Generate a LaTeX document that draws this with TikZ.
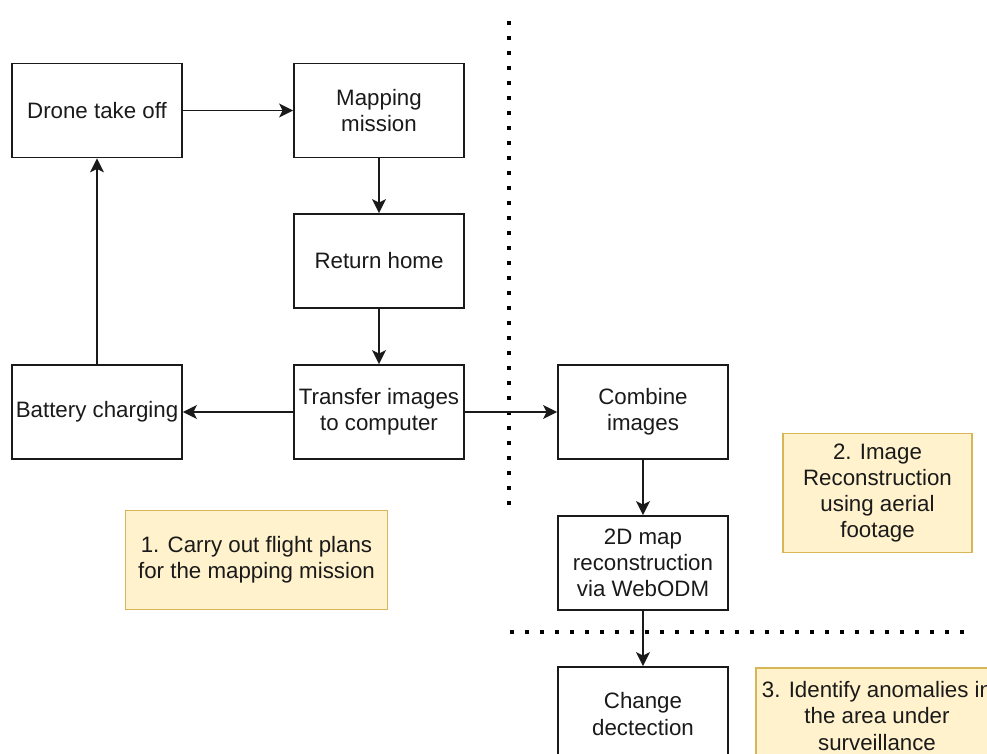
\documentclass[tikz,border=0pt]{standalone}
\usepackage{fontspec}
\setmainfont{Liberation Sans}
\usetikzlibrary{arrows.meta}
\definecolor{notefill}{HTML}{FFF2CC}
\definecolor{noteedge}{HTML}{D6B656}
\definecolor{inkc}{HTML}{1A1A1A}
\begin{document}
\begin{tikzpicture}[x=1pt,y=-1pt,
  stepbox/.style={draw=inkc,line width=1.8pt,fill=white,minimum width=170pt,minimum height=94pt,
    align=center,text=inkc,inner sep=2pt,font=\fontsize{22.3}{26.3}\selectfont},
  notebox/.style={draw=noteedge,line width=1.5pt,fill=notefill,align=center,text=inkc,
    inner sep=2pt,font=\fontsize{22.3}{26.3}\selectfont},
  flow/.style={draw=inkc,line width=1.8pt,-{Stealth[length=14pt,width=14pt,inset=3.5pt]}},
  sep/.style={line width=3.2pt,dash pattern=on 3.2pt off 11.8pt,draw=black}]
\useasboundingbox (0,0) rectangle (987,754);
\begin{scope}
\clip (0,0) rectangle (987,754);
% phase separators
\draw[sep] (509,21.4) -- (509,507);
\draw[sep] (510.4,632) -- (966,632);
% process steps
\node[stepbox] (takeoff) at (97,110.5) {Drone take off};
\node[stepbox] (mapping) at (379,110.5) {Mapping\\mission};
\node[stepbox] (home) at (379,261) {Return home};
\node[stepbox] (transfer) at (379,412) {Transfer images\\to computer};
\node[stepbox] (battery) at (97,412) {Battery charging};
\node[stepbox] (combine) at (643,412) {Combine\\images};
\node[stepbox] (map2d) at (643,563) {2D map\\reconstruction\\via WebODM};
\node[stepbox] (change) at (643,714) {Change\\dectection};
% phase notes
\node[notebox,minimum width=262pt,minimum height=99pt] (note1) at (256.5,560) {1. Carry out flight plans\\for the mapping mission};
\node[notebox,minimum width=189pt,minimum height=119pt] (note2) at (877.5,493) {2. Image\\Reconstruction\\using aerial\\footage};
\node[notebox,minimum width=242pt,minimum height=96pt] (note3) at (877,716) {3. Identify anomalies in\\the area under\\surveillance};
% connectors
\draw[flow] (takeoff) -- (mapping);
\draw[flow] (mapping) -- (home);
\draw[flow] (home) -- (transfer);
\draw[flow] (transfer) -- (battery);
\draw[flow] (battery) -- (takeoff);
\draw[flow] (transfer) -- (combine);
\draw[flow] (combine) -- (map2d);
\draw[flow] (map2d) -- (change);
\end{scope}
\end{tikzpicture}
\end{document}
